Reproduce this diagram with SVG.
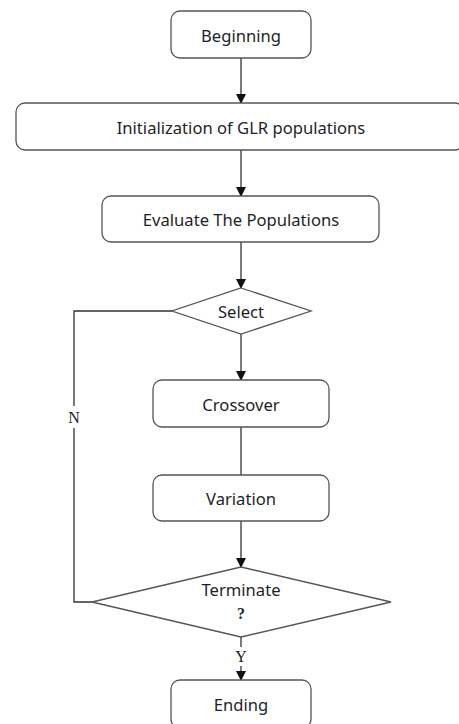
<svg xmlns="http://www.w3.org/2000/svg" width="459" height="724" viewBox="0 0 459 724">
  <style>
    .box { fill: #ffffff; stroke: #555555; stroke-width: 1.3; }
    .edge { fill: none; stroke: #333333; stroke-width: 1.3; }
    .lbl { font-family: "Noto Sans", "Open Sans", sans-serif; font-size: 16.6px; fill: #1e1e28; text-anchor: middle; dominant-baseline: central; }
    .mark { font-family: "Liberation Serif", "DejaVu Serif", serif; font-size: 16px; fill: #222222; text-anchor: middle; dominant-baseline: central; }
  </style>
  <defs>
    <marker id="arrow" markerWidth="10" markerHeight="14" refX="9" refY="5" orient="auto" markerUnits="userSpaceOnUse" viewBox="0 0 10 10">
      <path d="M0,0 L10,5 L0,10 Z" fill="#111111"/>
    </marker>
  </defs>
  <rect width="459" height="724" fill="#ffffff"/>

  <g id="connectors">
    <line class="edge" x1="241" y1="58" x2="241" y2="103" marker-end="url(#arrow)"/>
    <line class="edge" x1="241" y1="150" x2="241" y2="196" marker-end="url(#arrow)"/>
    <line class="edge" x1="241" y1="242" x2="241" y2="288" marker-end="url(#arrow)"/>
    <line class="edge" x1="241" y1="334" x2="241" y2="380" marker-end="url(#arrow)"/>
    <line class="edge" x1="241" y1="427" x2="241" y2="475"/>
    <line class="edge" x1="241" y1="521" x2="241" y2="567" marker-end="url(#arrow)"/>
    <line class="edge" x1="241" y1="637" x2="241" y2="680" marker-end="url(#arrow)"/>
    <polyline class="edge" points="172,311 74,311 74,602 92,602"/>
    <rect x="66" y="406" width="16" height="22" fill="#ffffff"/>
    <text class="mark" x="74" y="417">N</text>
    <rect x="234" y="647" width="14" height="19" fill="#ffffff"/>
    <text class="mark" x="241" y="656">Y</text>
  </g>

  <g id="beginning">
    <rect class="box" x="171" y="11" width="140" height="47" rx="9"/>
    <text class="lbl" x="241" y="35">Beginning</text>
  </g>
  <g id="init">
    <rect class="box" x="16" y="103" width="448" height="47" rx="9"/>
    <text class="lbl" x="241" y="127">Initialization of GLR populations</text>
  </g>
  <g id="evaluate">
    <rect class="box" x="102" y="196" width="277" height="46" rx="9"/>
    <text class="lbl" x="241" y="219">Evaluate The Populations</text>
  </g>
  <g id="select">
    <polygon class="box" points="241,288 311,311 241,334 172,311"/>
    <text class="lbl" x="241" y="311">Select</text>
  </g>
  <g id="crossover">
    <rect class="box" x="153" y="380" width="176" height="47" rx="9"/>
    <text class="lbl" x="241" y="404">Crossover</text>
  </g>
  <g id="variation">
    <rect class="box" x="153" y="475" width="176" height="46" rx="9"/>
    <text class="lbl" x="241" y="498">Variation</text>
  </g>
  <g id="terminate">
    <polygon class="box" points="241,567 391,602 241,637 92,602"/>
    <text class="lbl" x="241" y="589">Terminate</text>
    <text class="mark" x="241" y="613" font-weight="bold">?</text>
  </g>
  <g id="ending">
    <rect class="box" x="171" y="680" width="140" height="48" rx="9"/>
    <text class="lbl" x="241" y="704">Ending</text>
  </g>
</svg>
